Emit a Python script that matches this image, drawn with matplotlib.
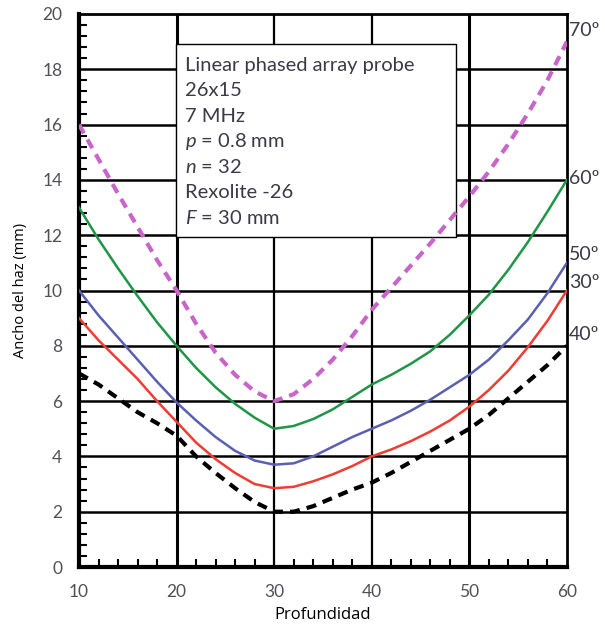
import numpy as np
import matplotlib.pyplot as plt
from matplotlib.ticker import MultipleLocator

# Profundidad (mm) sampled every 2 mm
depth = [10, 12, 14, 16, 18, 20, 22, 24, 26, 28, 30, 32, 34, 36, 38, 40, 42, 44, 46, 48, 50, 52, 54, 56, 58, 60]

# beam width (mm) per refracted angle
w70 = [16.0, 14.75, 13.5, 12.3, 11.1, 10.0, 8.8, 7.75, 6.95, 6.35, 6.0, 6.25, 6.8, 7.5, 8.35, 9.3,
       10.1, 10.9, 11.7, 12.55, 13.4, 14.3, 15.3, 16.4, 17.6, 19.0]
w60 = [13.0, 11.85, 10.8, 9.8, 8.85, 8.0, 7.2, 6.5, 5.9, 5.4, 5.0, 5.1, 5.35, 5.7, 6.15, 6.6,
       6.95, 7.35, 7.8, 8.4, 9.1, 9.85, 10.75, 11.75, 12.85, 14.0]
w50 = [10.0, 9.1, 8.3, 7.5, 6.7, 5.95, 5.3, 4.7, 4.2, 3.85, 3.7, 3.75, 4.0, 4.35, 4.7, 5.0,
       5.3, 5.65, 6.05, 6.5, 6.95, 7.5, 8.2, 8.95, 9.9, 11.0]
w30 = [9.0, 8.2, 7.5, 6.8, 6.0, 5.25, 4.5, 3.9, 3.4, 3.0, 2.85, 2.9, 3.1, 3.35, 3.65, 4.0,
       4.25, 4.55, 4.9, 5.3, 5.8, 6.4, 7.1, 7.95, 8.9, 10.0]
w40 = [7.0, 6.6, 6.1, 5.6, 5.2, 4.75, 4.0, 3.4, 2.85, 2.35, 2.0, 2.0, 2.2, 2.5, 2.8, 3.05,
       3.4, 3.8, 4.2, 4.6, 5.0, 5.5, 6.1, 6.7, 7.3, 8.0]

angle_labels = ["70º", "60º", "50º", "30º", "40º"]
label_y = [19.4, 14.05, 11.3, 10.3, 8.4]

info_lines = ["Linear phased array probe", "26x15", "7 MHz", "$p$ = 0.8 mm",
              "$n$ = 32", "Rexolite -26", "$F$ = 30 mm"]

txt = '#3a3a48'
plt.rcParams['font.family'] = ['Lato', 'DejaVu Sans']
plt.rcParams['mathtext.fontset'] = 'custom'
plt.rcParams['mathtext.it'] = 'Lato:italic'
plt.rcParams['mathtext.rm'] = 'Lato'

fig = plt.figure(figsize=(6.05, 6.25), dpi=100)
ax = fig.add_axes([0.1306, 0.0928, 0.8064, 0.8848])

ax.set_xlim(10, 60)
ax.set_ylim(0, 20)

# grid
for x in [20, 30, 40, 50]:
    ax.axvline(x, color='black', lw=2.2 if x in (20, 50) else 1.6, zorder=1)
for y in range(2, 20, 2):
    ax.axhline(y, color='black', lw=1.8, zorder=1)

ax.plot(depth, w70, color='#c865c8', lw=3, ls=(0, (2.4, 1.7)), zorder=3)
ax.plot(depth, w60, color='#1e9646', lw=1.8, zorder=3)
ax.plot(depth, w50, color='#5a5fb4', lw=1.8, zorder=3)
ax.plot(depth, w30, color='#f03c32', lw=1.8, zorder=3)
ax.plot(depth, w40, color='black', lw=3, ls=(0, (2.4, 1.7)), zorder=3)

for lab, y in zip(angle_labels, label_y):
    ax.text(60.2, y, lab, fontsize=14, color=txt, va='center', ha='left', clip_on=False)

# info box
ax.fill_between([19.9, 48.6], 11.95, 18.9, facecolor='white', edgecolor='black', lw=1, zorder=2)
for i, line in enumerate(info_lines):
    ax.text(20.9, 18.15 - i * 0.92, line, fontsize=14.5, color=txt, va='center', ha='left', zorder=4)

ax.xaxis.set_major_locator(MultipleLocator(10))
ax.xaxis.set_minor_locator(MultipleLocator(2))
ax.yaxis.set_major_locator(MultipleLocator(2))
ax.yaxis.set_minor_locator(MultipleLocator(0.4))
ax.tick_params(which='major', direction='in', length=0, labelsize=12.5, labelcolor='#505058', pad=12)
ax.tick_params(which='minor', direction='in', length=6, width=1.5, color='black')
ax.tick_params(axis='x', which='major', pad=12)

for s in ['left', 'bottom']:
    ax.spines[s].set_linewidth(3)
for s in ['right', 'top']:
    ax.spines[s].set_linewidth(2)

ax.set_xlabel('Profundidad', fontsize=12, color='black', labelpad=5, family='Open Sans')
ax.set_ylabel('Ancho del haz (mm)', fontsize=10.5, color='black', labelpad=10, family='Open Sans')

fig.savefig('out.png', dpi=100)
